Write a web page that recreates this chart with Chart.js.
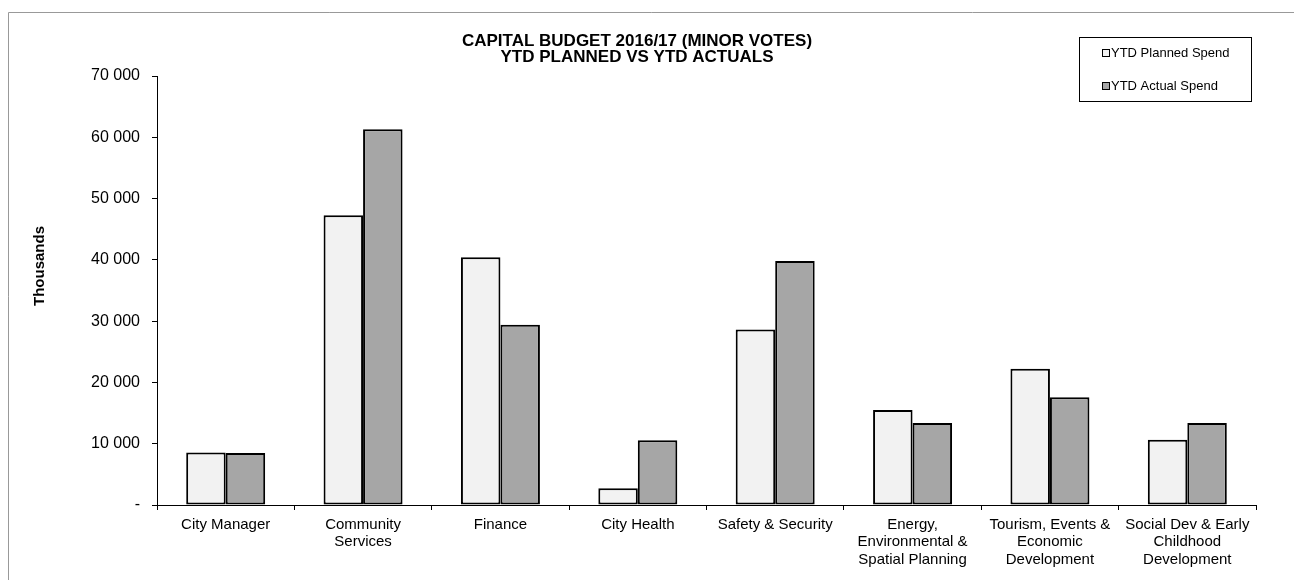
<!DOCTYPE html>
<html>
<head>
<meta charset="utf-8">
<title>Capital Budget 2016/17</title>
<script src="https://cdn.jsdelivr.net/npm/chart.js@4.4.0/dist/chart.umd.min.js"></script>
<style>
  html, body { margin: 0; padding: 0; background: #fff; }
  #wrap { position: relative; width: 1294px; height: 580px; }
</style>
</head>
<body>
<div id="wrap"><canvas id="budgetChart"></canvas></div>
<script>
// Datos del gráfico (miles)
const departments = [
    'City Manager',
    ['Community', 'Services'],
    'Finance',
    'City Health',
    'Safety & Security',
    ['Energy,', 'Environmental &', 'Spatial Planning'],
    ['Tourism, Events &', 'Economic', 'Development'],
    ['Social Dev & Early', 'Childhood', 'Development']
];
const plannedSpend = [8550, 47270, 40420, 2720, 28650, 15500, 22240, 10650];
const actualSpend = [8500, 61300, 29400, 10550, 39800, 13380, 17600, 13380];
const yTickValues = [0, 10000, 20000, 30000, 40000, 50000, 60000, 70000];
const seriesNames = ['YTD Planned Spend', 'YTD Actual Spend'];
const chartTitle = ['CAPITAL BUDGET 2016/17 (MINOR VOTES)', 'YTD PLANNED VS YTD ACTUALS'];
const axisTitle = 'Thousands';

const FONT = 'Arial, "Liberation Sans", sans-serif';

// 10000 -> "10 000", 0 -> "-"
function formatThousands(value) {
    if (value === 0) return '-';
    return String(value).replace(/\B(?=(\d{3})+(?!\d))/g, ' ');
}

// Marco, título del eje y leyenda con recuadro
const frameAndLegend = {
    id: 'frameAndLegend',
    afterDraw(chart) {
        const ctx = chart.ctx;
        ctx.save();

        ctx.strokeStyle = '#999';
        ctx.lineWidth = 1;
        ctx.beginPath();
        ctx.moveTo(8.5, chart.height);
        ctx.lineTo(8.5, 12.5);
        ctx.lineTo(chart.width, 12.5);
        ctx.stroke();

        // título del eje Y
        ctx.save();
        ctx.fillStyle = '#000';
        ctx.font = 'bold 15px ' + FONT;
        ctx.translate(40, 266);
        ctx.rotate(-Math.PI / 2);
        ctx.textAlign = 'center';
        ctx.textBaseline = 'middle';
        ctx.fillText(axisTitle, 0, 0);
        ctx.restore();

        // leyenda
        ctx.strokeStyle = '#000';
        ctx.strokeRect(1079.5, 37.5, 172, 64);
        ctx.font = '13px ' + FONT;
        ctx.textAlign = 'left';
        ctx.textBaseline = 'middle';
        chart.data.datasets.forEach((ds, i) => {
            const y = 53 + i * 33;
            ctx.fillStyle = ds.backgroundColor;
            ctx.fillRect(1102, y - 3.5, 7, 7);
            ctx.strokeStyle = '#000';
            ctx.strokeRect(1102.5, y - 3.5, 7, 7);
            ctx.fillStyle = '#000';
            ctx.fillText(ds.label, 1111, y);
        });

        ctx.restore();
    }
};

const ctx = document.getElementById('budgetChart').getContext('2d');
const budgetChart = new Chart(ctx, {
    type: 'bar',
    data: {
        labels: departments,
        datasets: [
            {
                label: seriesNames[0],
                data: plannedSpend,
                backgroundColor: '#F2F2F2',
                borderColor: '#000',
                borderWidth: 2,
                borderSkipped: false,
                categoryPercentage: 0.575,
                barPercentage: 1
            },
            {
                label: seriesNames[1],
                data: actualSpend,
                backgroundColor: '#A6A6A6',
                borderColor: '#000',
                borderWidth: 2,
                borderSkipped: false,
                categoryPercentage: 0.575,
                barPercentage: 1
            }
        ]
    },
    options: {
        responsive: true,
        maintainAspectRatio: false,
        animation: false,
        layout: {
            padding: { left: 18, right: 38, top: 0, bottom: 0 }
        },
        plugins: {
            legend: { display: false },
            tooltip: { enabled: false },
            title: {
                display: true,
                text: chartTitle,
                color: '#000',
                font: { family: FONT, size: 17, weight: 'bold', lineHeight: '16px' },
                padding: { top: 33, bottom: 11 }
            }
        },
        scales: {
            x: {
                offset: true,
                grid: {
                    offset: true,
                    drawOnChartArea: false,
                    color: '#000',
                    tickLength: 5
                },
                border: { color: '#000', width: 1 },
                ticks: {
                    color: '#000',
                    autoSkip: false,
                    maxRotation: 0,
                    padding: 6,
                    font: { family: FONT, size: 15, lineHeight: '17.5px' }
                },
                afterFit(scale) {
                    scale.height = 75;
                }
            },
            y: {
                min: 0,
                max: 70000,
                grid: {
                    drawOnChartArea: false,
                    color: '#000',
                    tickLength: 5
                },
                border: { color: '#000', width: 1 },
                ticks: {
                    color: '#000',
                    padding: 12,
                    font: { family: FONT, size: 16 },
                    callback: value => formatThousands(value)
                },
                afterBuildTicks(scale) {
                    scale.ticks = yTickValues.map(v => ({ value: v }));
                },
                afterFit(scale) {
                    scale.width = 139;
                }
            }
        }
    },
    plugins: [frameAndLegend]
});
</script>
</body>
</html>
